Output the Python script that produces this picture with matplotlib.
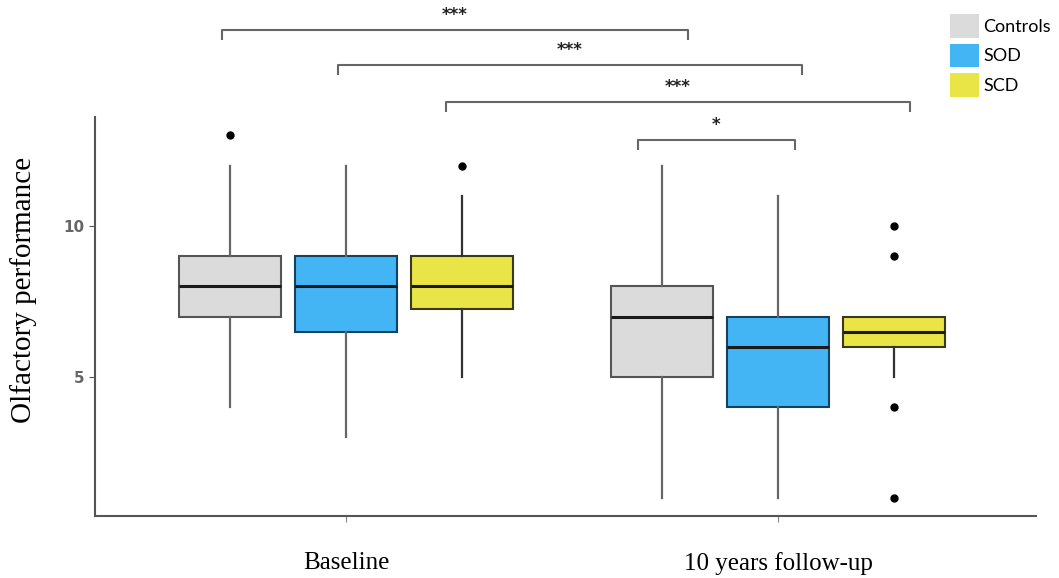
import matplotlib.pyplot as plt
from matplotlib.patches import Patch

# data
timepoints = ["Baseline", "10 years follow-up"]
groups = ["Controls", "SOD", "SCD"]
colors = ["#dbdbdb", "#44b5f4", "#e9e546"]
edge_colors = ["#555555", "#14425e", "#3a3a1a"]

# per timepoint, per group: (whislo, q1, med, q3, whishi, outliers)
whislo = [[4, 3, 5], [1, 1, 5]]
q1 = [[7, 6.5, 7.25], [5, 4, 6]]
med = [[8, 8, 8], [7, 6, 6.5]]
q3 = [[9, 9, 9], [8, 7, 7]]
whishi = [[12, 12, 11], [12, 11, 7]]
fliers = [[[13], [], [12]], [[], [], [10, 9, 4, 1]]]

# significance brackets: (x start, x end, y level, label)
brackets = [(0.713, 1.792, 16.49, "***"),
            (0.981, 2.055, 15.33, "***"),
            (1.231, 2.306, 14.11, "***"),
            (1.676, 2.039, 12.85, "*")]

fig = plt.figure(figsize=(10.59, 5.78), dpi=100)
ax = fig.add_axes([95 / 1059, 62 / 578, 941 / 1059, 516 / 578])

offset = 0.268
width = 0.237
for t in range(len(timepoints)):
    for g in range(len(groups)):
        stats = [dict(whislo=whislo[t][g], q1=q1[t][g], med=med[t][g],
                      q3=q3[t][g], whishi=whishi[t][g], fliers=fliers[t][g])]
        pos = t + 1 + (g - 1) * offset
        ax.bxp(stats, positions=[pos], widths=width, patch_artist=True,
               showcaps=False,
               boxprops=dict(facecolor=colors[g], edgecolor=edge_colors[g], linewidth=1.5),
               medianprops=dict(color="#1a1a1a", linewidth=2.2),
               whiskerprops=dict(color="#666666" if g < 2 else "#333333", linewidth=1.6),
               flierprops=dict(marker="o", markerfacecolor="black", markeredgecolor="black",
                               markersize=5))

for x0, x1, y, label in brackets:
    ax.plot([x0, x0, x1, x1], [y - 0.33, y, y, y - 0.33], color="#666666", lw=1.5,
            solid_capstyle="butt", clip_on=False)
    ax.text((x0 + x1) / 2, y + 0.2, label, ha="center", va="bottom", fontsize=12,
            fontweight="bold", color="#222222")

ax.set_xlim(0.419, 2.597)
ax.set_ylim(0.4, 17.48)
ax.spines["top"].set_visible(False)
ax.spines["right"].set_visible(False)
ax.spines["left"].set_bounds(0.4, 13.6)
ax.spines["left"].set_color("#555555")
ax.spines["bottom"].set_color("#555555")
ax.spines["left"].set_linewidth(1.5)
ax.spines["bottom"].set_linewidth(1.5)

ax.set_yticks([5, 10])
ax.set_yticklabels(["5", "10"], fontsize=11, color="#666666", fontweight="bold")
ax.set_xticks([1, 2])
ax.set_xticklabels(timepoints, fontsize=18, family="Liberation Serif")
ax.tick_params(axis="x", length=4, color="#888888", pad=22)
ax.tick_params(axis="y", length=4, color="#555555")
ax.set_ylabel("Olfactory performance", fontsize=21, family="Liberation Serif")
ax.yaxis.set_label_coords(-0.062, 0.438)

handles = [Patch(facecolor=c, edgecolor="none") for c in colors]
fig.legend(handles, groups, loc="upper left", bbox_to_anchor=(936 / 1059, 1.0),
           frameon=False, fontsize=13, handlelength=1.6, handleheight=1.6,
           labelspacing=0.35, handletextpad=0.2, borderaxespad=0.4,
           prop=dict(family="Lato", size=13))

fig.savefig("out.png", dpi=100)
